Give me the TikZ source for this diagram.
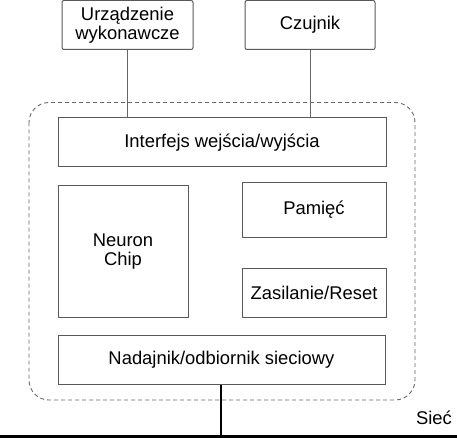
\documentclass[tikz,border=0pt]{standalone}
\usepackage{fontspec}
\setmainfont{Liberation Sans}
\begin{document}
\begin{tikzpicture}[x=1pt,y=-1pt,
  blk/.style={draw=black!65,line width=1pt,inner sep=0pt,align=center,font=\fontsize{18.4}{21}\selectfont},
  ext/.style={blk,rounded corners=2pt},
  wire/.style={draw=black!60,line width=0.9pt},
  bus/.style={draw=black,line width=2.2pt}]
\useasboundingbox (0,0) rectangle (457,438);
% dashed module outline
\draw[draw=black!60,line width=0.9pt,dash pattern=on 4pt off 3pt,rounded corners=20pt] (29,102.5) rectangle (415,400);
% external devices
\node[ext,minimum width=131pt,minimum height=49pt] (act) at (127.5,25) {Urządzenie\\[-2pt]wykonawcze};
\node[ext,minimum width=130pt,minimum height=49pt] (sen) at (310,25) {Czujnik};
% inner blocks
\node[blk,minimum width=328pt,minimum height=49pt] (io) at (222,142.5) {Interfejs wejścia/wyjścia};
\node[blk,minimum width=130pt,minimum height=131pt] (chip) at (123,251.5) {Neuron\\[-2pt]Chip};
\node[blk,minimum width=144pt,minimum height=54pt] (mem) at (314,210) {Pamięć};
\node[blk,minimum width=144pt,minimum height=49pt] (pwr) at (314,292.5) {Zasilanie/Reset};
\node[blk,minimum width=327pt,minimum height=49pt] (net) at (221.5,359.5) {Nadajnik/odbiornik sieciowy};
% network bus
\coordinate (busL) at (0,436.5);
\coordinate (busR) at (457,436.5);
\coordinate (busT) at (221,436.5);
\node[font=\fontsize{18.4}{21}\selectfont,anchor=east,inner sep=0pt] (siec) at (452,418) {Sieć};
% connectors
\draw[wire] (act.south) -- (act.south |- io.north);
\draw[wire] (sen.south) -- (sen.south |- io.north);
\draw[bus] (net.south -| busT) -- (busT);
\draw[bus] (busL) -- (busR);
\end{tikzpicture}
\end{document}
